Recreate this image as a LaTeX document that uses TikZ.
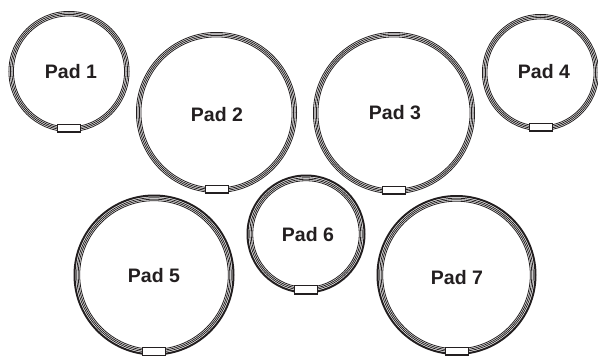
\documentclass[tikz,border=0pt]{standalone}
\usepackage{fontspec}
\setmainfont{Liberation Sans}
\definecolor{ink}{HTML}{231F20}
\tikzset{
  ringline/.style={draw=ink, line width=0.8pt},
  thickring/.style={draw=ink, line width=2pt},
  padlabel/.style={font=\bfseries\fontsize{19.5}{19.5}\selectfont, text=ink, inner sep=0pt},
  tabfill/.style={fill=white, draw=ink, line width=0.7pt},
  tabedge/.style={draw=ink, line width=1.6pt}
}
% #1 name, #2 cx, #3 cy, #4 r, #5 label x, #6 label y, #7 label
\newcommand\thinpad[7]{%
  \foreach \d in {0.4,1.9,3.4,4.9}
    \draw[ringline] (#2,#3) circle[radius={#4-\d}];
  \filldraw[tabfill] ({#2-11.5},{#3+#4-7.5}) rectangle ({#2+11.5},{#3+#4+0.5});
  \draw[tabedge] ({#2-11},{#3+#4}) -- ({#2+11},{#3+#4});
  \node[padlabel] (#1) at (#5,#6) {#7};
}
\newcommand\thickpad[7]{%
  \draw[thickring] (#2,#3) circle[radius={#4-1}];
  \foreach \d in {3.2,4.7,6.2}
    \draw[ringline] (#2,#3) circle[radius={#4-\d}];
  \filldraw[tabfill] ({#2-11.5},{#3+#4-8}) rectangle ({#2+11.5},{#3+#4+0.5});
  \draw[tabedge] ({#2-11},{#3+#4}) -- ({#2+11},{#3+#4});
  \node[padlabel] (#1) at (#5,#6) {#7};
}
\begin{document}
\begin{tikzpicture}[x=1pt,y=-1pt]
\useasboundingbox[fill=white] (0,0) rectangle (598,356);
\thinpad{p1}{69}{71.5}{60.5}{71}{72}{Pad 1}
\thinpad{p2}{216.5}{112.5}{80.5}{217}{115}{Pad 2}
\thinpad{p3}{394}{113}{81}{395}{113}{Pad 3}
\thinpad{p4}{540.5}{72.5}{58.5}{544}{72}{Pad 4}
\thickpad{p5}{154}{275}{80.5}{154}{276}{Pad 5}
\thickpad{p6}{306}{234}{59.5}{308}{235}{Pad 6}
\thickpad{p7}{456.5}{275}{80}{457}{278}{Pad 7}
\end{tikzpicture}
\end{document}
